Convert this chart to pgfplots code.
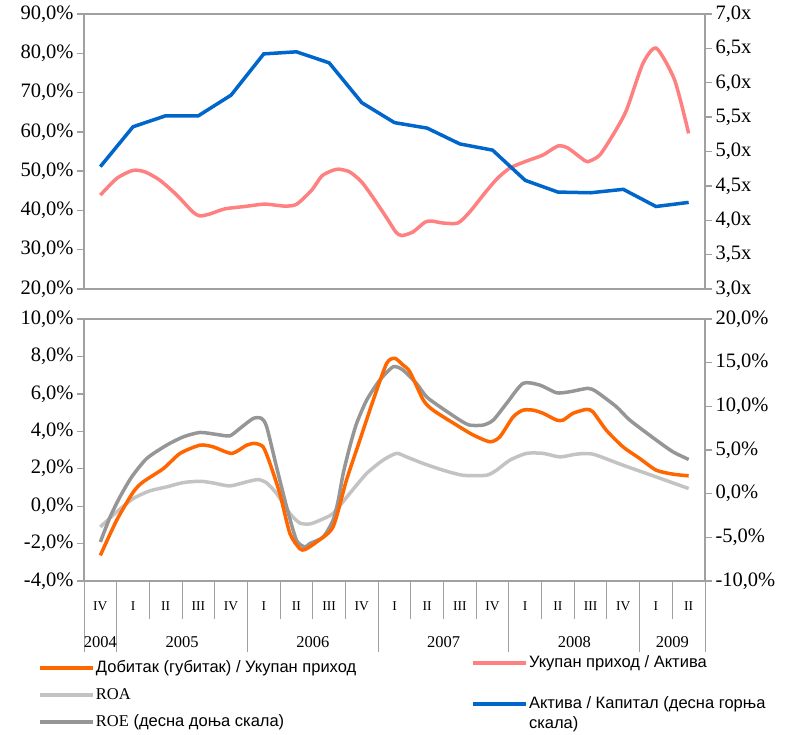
\documentclass[border=0pt]{standalone}
\usepackage{fontspec}
\setmainfont{Liberation Serif}
\newfontfamily\legfont{Liberation Sans}
\usepackage{pgfplots}
\pgfplotsset{compat=1.18}
\definecolor{axgray}{HTML}{A0A0A0}
\definecolor{cOrange}{HTML}{FF6600}
\definecolor{cROA}{HTML}{C3C3C3}
\definecolor{cROE}{HTML}{969696}
\definecolor{cPink}{HTML}{FF8080}
\definecolor{cBlue}{HTML}{0066CC}
\pgfplotsset{
  base/.style={scale only axis, width=621pt, xmin=-0.5, xmax=18.5,
    axis line style={draw=axgray, line width=1.3pt},
    tick style={draw=axgray, line width=1.3pt},
    major tick length=7pt, tick align=outside,
    /pgf/number format/assume math mode=true,
    yticklabel style={font=\fontsize{20.5}{24}\selectfont},
  },
  pct/.style={yticklabel={\pgfmathprintnumber[fixed,fixed zerofill,precision=1,use comma]{\tick}\%}},
  leg/.style={legend cell align=left,
    legend image code/.code={\draw[##1] (0pt,0pt) -- (53pt,0pt);},
    legend style={draw=none, fill=none, inner sep=0pt, outer sep=0pt,
      font=\legfont\fontsize{16.5}{19}\selectfont,
      nodes={inner sep=0pt, text height=12pt, text depth=3.5pt},
      /tikz/every odd column/.append style={column sep=1.5pt}}},
  ln/.style={line width=3.5pt},
}
\begin{document}
\begin{tikzpicture}
\path[use as bounding box] (0pt,0pt) rectangle (786pt,-734pt);
% ---------- top panel ----------
\begin{axis}[base, pct, at={(84pt,-14pt)}, anchor=north west, height=275pt,
  ymin=20, ymax=90, ytick={20,30,...,90}, ytick pos=left, xtick=\empty]
\addplot[cPink, ln, smooth, tension=0.4] table {
x y
0.00 43.9
0.51 48.2
1.00 50.2
1.37 49.8
1.82 47.7
2.34 43.9
2.83 39.6
3.05 38.6
3.35 39.1
3.81 40.4
4.42 41.0
5.03 41.6
5.65 41.1
6.01 41.6
6.47 45.2
6.78 48.8
7.11 50.2
7.30 50.5
7.63 49.8
8.00 47.2
8.40 42.6
8.80 37.6
9.04 34.5
9.22 33.6
9.56 34.5
9.93 37.0
10.14 37.3
10.48 36.8
10.94 36.8
11.30 39.6
11.76 44.4
12.13 48.0
12.53 50.8
13.05 52.6
13.54 54.1
14.00 56.4
14.30 55.9
14.72 53.3
14.91 52.4
15.28 54.1
15.74 60.0
16.10 65.6
16.60 77.4
17.01 81.3
17.57 73.2
18.00 59.6
};
\end{axis}
\begin{axis}[base, leg, at={(84pt,-14pt)}, anchor=north west, height=275pt,
  ymin=3, ymax=7, ytick={3,3.5,...,7}, axis y line*=right, axis x line=none,
  yticklabel={\pgfmathprintnumber[fixed,fixed zerofill,precision=1,use comma]{\tick}x},
  legend style={at={(0.6232,-1.331)}, anchor=north west, row sep=5pt}]
\addlegendimage{cPink, ln}
\addlegendentry{Укупан приход / Актива}
\addlegendimage{empty legend}
\addlegendentry{}
\addplot[cBlue, ln] table {
x y
0 4.78
1 5.36
2 5.52
3 5.52
4 5.82
5 6.42
6 6.45
7 6.29
8 5.71
9 5.42
10 5.34
11 5.11
12 5.02
13 4.58
14 4.41
15 4.40
16 4.45
17 4.20
18 4.26
};
\addlegendentry{Актива / Капитал (десна горња}
\addlegendimage{empty legend}
\addlegendentry{скала)}
\end{axis}
% ---------- bottom panel ----------
\begin{axis}[base, pct, at={(84pt,-319pt)}, anchor=north west, height=262pt,
  ymin=-4, ymax=10, ytick={-4,-2,...,10}, ytick pos=left,
  xtick={0,...,18}, xtick pos=left,
  xticklabels={IV,I,II,III,IV,I,II,III,IV,I,II,III,IV,I,II,III,IV,I,II},
  major x tick style={draw=none},
  minor xtick={-0.5,0.5,...,18.5}, minor tick length=38pt,
  minor x tick style={draw=axgray, line width=1pt},
  extra x ticks={-0.5,0.5,4.5,8.5,12.5,16.5,18.5}, extra x tick labels={},
  extra x tick style={major tick length=71pt, major x tick style={draw=axgray, line width=1pt}},
  xticklabel style={font=\fontsize{13.5}{16}\selectfont, anchor=center, yshift=-17.8pt}]
\addplot[cROA, ln, smooth, tension=0.4] table {
x y
0.00 -1.11
0.50 -0.31
1.01 0.41
1.52 0.82
2.03 1.03
2.54 1.26
3.05 1.33
3.45 1.24
3.96 1.08
4.48 1.30
4.83 1.42
5.09 1.24
5.39 0.68
5.80 -0.39
6.10 -0.90
6.41 -0.95
6.72 -0.75
7.12 -0.39
7.63 0.68
8.15 1.75
8.65 2.46
9.06 2.82
9.37 2.63
9.88 2.28
10.49 1.92
11.10 1.65
11.81 1.65
12.12 1.92
12.53 2.46
13.04 2.82
13.55 2.82
14.06 2.63
14.57 2.78
15.07 2.78
15.99 2.19
17.01 1.56
18.00 0.94
};
\end{axis}
\begin{axis}[base, at={(84pt,-319pt)}, anchor=north west, height=262pt,
  ymin=-10, ymax=20, ytick={-10,-5,...,20}, axis y line*=right, axis x line*=bottom,
  x axis line style={draw=none},
  yticklabel={\pgfmathprintnumber[fixed,fixed zerofill,precision=1,use comma]{\tick}\%},
  xtick={0,2.5,6.5,10.5,14.5,17.5}, xticklabels={2004,2005,2006,2007,2008,2009},
  major x tick style={draw=none},
  xticklabel style={font=\fontsize{16.5}{19}\selectfont, anchor=center, yshift=-53.7pt}]
\addplot[cROE, ln, smooth, tension=0.4] table {
x y
0.00 -5.53
0.30 -2.66
0.60 -0.37
0.96 1.92
1.42 4.03
2.03 5.56
2.54 6.51
3.05 7.01
3.56 6.78
3.96 6.62
4.27 7.47
4.68 8.62
4.93 8.62
5.09 7.65
5.39 3.07
5.70 -1.52
6.00 -5.33
6.26 -6.10
6.41 -5.71
6.82 -4.96
7.12 -3.04
7.28 -0.75
7.43 2.31
7.63 5.36
7.84 8.04
8.15 10.72
8.55 13.01
8.96 14.53
9.26 14.15
9.67 12.63
9.98 11.09
10.39 9.95
11.00 8.42
11.30 7.85
11.71 7.85
12.02 8.42
12.43 10.34
12.93 12.63
13.44 12.44
13.96 11.55
14.36 11.67
14.92 12.06
15.18 11.67
15.79 9.95
16.20 8.42
17.01 6.13
17.52 4.79
18.00 3.92
};
\end{axis}
\begin{axis}[base, leg, hide axis, at={(84pt,-319pt)}, anchor=north west, height=262pt,
  ymin=-4, ymax=10,
  legend style={at={(-0.0741,-0.3025)}, anchor=north west, row sep=11.5pt}]
\addplot[cOrange, ln, smooth, tension=0.4] table {
x y
0.00 -2.63
0.50 -0.75
1.01 0.76
1.31 1.30
1.93 2.01
2.44 2.82
3.05 3.26
3.45 3.17
4.02 2.82
4.48 3.26
4.73 3.35
4.98 3.17
5.19 2.28
5.49 0.68
5.80 -1.46
6.10 -2.27
6.26 -2.32
6.62 -1.91
7.12 -1.11
7.53 1.39
7.94 3.53
8.35 5.67
8.76 7.63
9.01 7.90
9.26 7.54
9.47 7.18
9.88 5.67
10.18 5.13
10.90 4.33
11.41 3.80
11.92 3.44
12.22 3.70
12.63 4.77
12.93 5.13
13.24 5.13
13.55 4.96
13.96 4.60
14.16 4.60
14.46 4.96
14.87 5.17
15.07 5.04
15.48 4.06
15.99 3.17
16.50 2.55
17.01 1.92
17.52 1.71
18.00 1.62
};
\addlegendentry{Добитак (губитак) / Укупан приход}
\addlegendimage{cROA, ln}
\addlegendentry{{\rmfamily ROA}}
\addlegendimage{cROE, ln}
\addlegendentry{{\rmfamily ROE} (десна доња скала)}
\end{axis}
\end{tikzpicture}
\end{document}
